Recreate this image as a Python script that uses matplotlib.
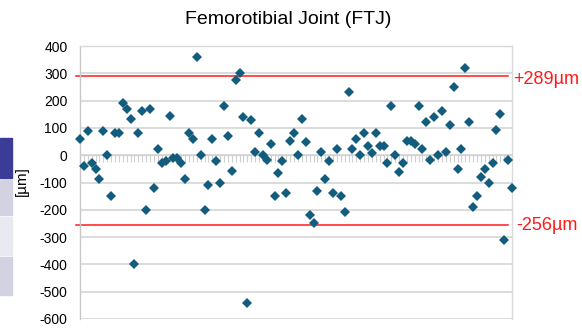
import numpy as np
import matplotlib
matplotlib.use("Agg")
import matplotlib.pyplot as plt
from matplotlib.patches import Rectangle

plt.rcParams['font.family'] = ['Liberation Sans', 'DejaVu Sans']

# FTJ deviation per sample [um]
values = [60, -40, 90, -28, -51, -89, 90, 0, -150, 80,
          80, 193, 171, 131, -400, 80, 161, -199, 171, -120,
          21, -30, -21, 142, -10, -10, -30, -89, 80, 60,
          360, 0, -199, -110, 60, -20, -100, 181, 70, -59,
          277, 300, 140, -540, 130, 10, 80, 0, -18, 40,
          -150, -67, -20, -138, 51, 82, 0, 131, 50, -220,
          -250, -131, 11, -89, -20, -138, 21, -150, -208, 230,
          21, 61, 0, 81, 34, 8, 81, 32, 32, -29,
          181, 0, -60, -29, 51, 51, 40, 181, 21, 121,
          -19, 140, 0, 161, 10, 111, 250, -49, 21, 320,
          121, -190, -150, -79, -49, -100, -29, 91, 150, -310,
          -19, -120]
samples = np.arange(1, len(values) + 1)

upper_limit = 289
lower_limit = -256
yticks = list(range(-600, 401, 100))

fig = plt.figure(figsize=(5.82, 3.28), dpi=100)
ax = fig.add_axes([80 / 582, 1 - 319 / 328, 432 / 582, 273 / 328])

grid_color = "#d9d9d9"
ax.set_ylim(-600, 400)
ax.set_xlim(samples[0], samples[-1])
ax.set_yticks(yticks)
ax.set_yticklabels([str(t) for t in yticks], fontsize=10)
ax.yaxis.grid(True, color=grid_color, linewidth=1.3)
ax.set_axisbelow(True)
ax.tick_params(axis="y", length=0, pad=9)

# category axis crossing at zero with a tick per sample
ax.spines["bottom"].set_position(("data", 0))
ax.spines["bottom"].set_color("#d0d0d0")
ax.set_xticks(samples)
ax.set_xticklabels([])
ax.tick_params(axis="x", direction="out", length=5, width=0.8, color="#cfcfcf")
for s in ["left", "right", "top"]:
    ax.spines[s].set_color(grid_color)
    ax.spines[s].set_linewidth(1.0)
ax.spines["left"].set_color("#c8c8c8")

# limit lines
for lim in (upper_limit, lower_limit):
    ax.axhline(lim, xmin=-0.009, xmax=0.991, color="#ff1a1a", linewidth=1.1,
               clip_on=False, zorder=2)

ax.plot(samples, values, linestyle="none", marker="D", markersize=4.7,
        markeredgewidth=0, color="#125c7e", clip_on=False, zorder=3)

fig.text(288.5 / 582, 1 - 20 / 328, "Femorotibial Joint (FTJ)", fontsize=14,
         ha="center", va="center")
fig.text(21.5 / 582, 1 - 181 / 328, "[µm]", fontsize=11, rotation=90,
         ha="center", va="center")
fig.text(513 / 582, 1 - 79 / 328, f"+{upper_limit}µm", fontsize=13,
         color="#ff1a1a", ha="left", va="center")
fig.text(516 / 582, 1 - 225 / 328, f"{lower_limit}µm", fontsize=13,
         color="#ff1a1a", ha="left", va="center")

# leftover legend strip at the left edge
strip_colors = ["#3b3b98", "#d2d2e2", "#e9e9f1", "#d2d2e2"]
strip_tops = [138, 180, 217, 257]
strip_bottoms = [178, 215, 255, 295]
for c, t, b in zip(strip_colors, strip_tops, strip_bottoms):
    fig.patches.append(Rectangle((0, 1 - b / 328), 12 / 582, (b - t) / 328,
                                 transform=fig.transFigure, color=c, zorder=0))

fig.savefig("out.png", dpi=100)
